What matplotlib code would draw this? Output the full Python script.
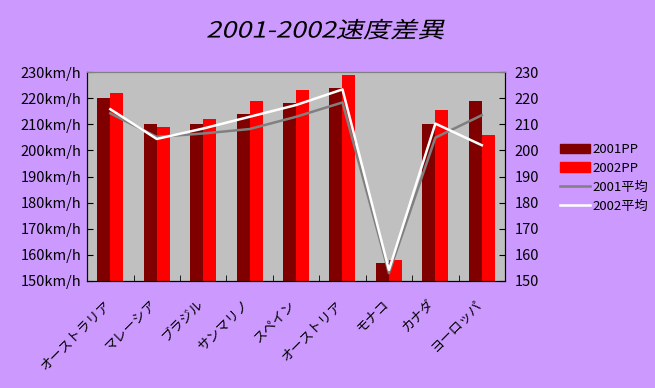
import numpy as np
import matplotlib
matplotlib.use("Agg")
import matplotlib.pyplot as plt
from matplotlib.patches import Patch
from matplotlib.lines import Line2D
from matplotlib.patheffects import AbstractPathEffect
from matplotlib.transforms import Affine2D

plt.rcParams["font.family"] = ["Noto Sans CJK JP", "DejaVu Sans"]

# data
courses = ["オーストラリア", "マレーシア", "ブラジル", "サンマリノ", "スペイン",
           "オーストリア", "モナコ", "カナダ", "ヨーロッパ"]
pp_2001 = [220, 210, 210, 214, 218, 224, 157, 210, 219]
pp_2002 = [222, 209, 212, 219, 223, 229, 158, 215.5, 206]
avg_2001 = [214.2, 205.2, 206.5, 208.2, 212.9, 218.4, 153, 204.9, 213.5]
avg_2002 = [215.8, 204.4, 208.4, 212.9, 217.4, 223.4, 154.2, 210.3, 202]
yticks = [150, 160, 170, 180, 190, 200, 210, 220, 230]


class Slant(AbstractPathEffect):
    """fake italic: shear the glyph outlines around the text origin"""

    def __init__(self, deg=14, stretch=1.22):
        super().__init__()
        self.deg = deg
        self.stretch = stretch

    def draw_path(self, renderer, gc, tpath, affine, rgbFace=None):
        ox, oy = affine.transform((0, 0))
        shear = (Affine2D().translate(-ox, -oy).scale(self.stretch, 1)
                 .skew_deg(self.deg, 0).translate(ox, oy))
        renderer.draw_path(gc, tpath, affine + shear, rgbFace)


bg = "#CC99FF"
fig = plt.figure(figsize=(6.55, 3.88), dpi=100, facecolor=bg)
ax = fig.add_axes([0.133, 0.276, 0.638, 0.538])
ax.set_facecolor("#C0C0C0")

x = np.arange(len(courses))
w = 0.28
ax.bar(x - w / 2, [v - 150 for v in pp_2001], w, bottom=150, color="#800000", zorder=2)
ax.bar(x + w / 2, [v - 150 for v in pp_2002], w, bottom=150, color="#FF0000", zorder=2)
ax.plot(x, avg_2001, color="#808080", lw=1.8, zorder=3)
ax.plot(x, avg_2002, color="white", lw=1.8, zorder=3)

ax.set_xlim(-0.5, len(courses) - 0.5)
ax.set_ylim(150, 230)
ax.set_yticks(yticks)
ax.set_yticklabels([f"{v}km/h" for v in yticks], fontsize=10.5)
ax.tick_params(axis="y", direction="in", length=4, color="black", pad=4)

# category boundary ticks
ax.set_xticks(np.arange(len(courses) + 1) - 0.5, minor=True)
ax.set_xticks(x - 0.15)
ax.set_xticklabels(courses, rotation=45, ha="right", va="top", fontsize=9.5,
                   rotation_mode="anchor")
ax.tick_params(axis="x", which="major", length=0, pad=12)
ax.tick_params(axis="x", which="minor", direction="in", length=4)

ax2 = ax.twinx()
ax2.set_ylim(150, 230)
ax2.set_yticks(yticks)
ax2.set_yticklabels([str(v) for v in yticks], fontsize=10.5)
ax2.tick_params(axis="y", direction="in", length=4, pad=7)

for a in (ax, ax2):
    a.spines["top"].set_color("#808080")
    a.spines["left"].set_color("black")
    a.spines["right"].set_color("black")
    a.spines["bottom"].set_color("black")

title = fig.text(0.5, 0.92, "2001-2002速度差異", ha="center", va="center",
                 fontsize=16)
title.set_path_effects([Slant()])
title.set_x(0.5 - 0.036)

handles = [Patch(color="#800000"), Patch(color="#FF0000"),
           Line2D([], [], color="#808080", lw=1.8), Line2D([], [], color="white", lw=1.8)]
labels = ["2001PP", "2002PP", "2001平均", "2002平均"]
fig.legend(handles, labels, loc="center left", bbox_to_anchor=(0.845, 0.542),
           frameon=False, fontsize=9.5, handlelength=2.3, handletextpad=0.15,
           labelspacing=0.45, borderpad=0)

fig.savefig("out.png", dpi=100, facecolor=bg)
